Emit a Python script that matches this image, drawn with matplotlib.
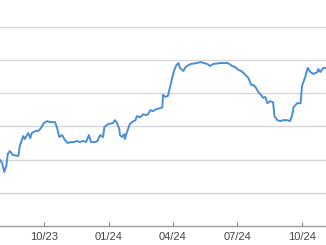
import pandas as pd
import matplotlib
matplotlib.use("Agg")
import matplotlib.pyplot as plt
import matplotlib.dates as mdates

# days since 2023-07-31 and the value
days = [0, 3, 6, 9, 11, 14, 18, 26, 28, 33, 35, 40, 43, 45, 50, 54, 58, 62, 67, 71,
        78, 81, 84, 88, 92, 96, 101, 105, 109, 113, 118, 122, 126, 129, 135, 138, 142, 146, 148, 153,
        160, 163, 166, 169, 170, 173, 176, 177, 180, 184, 187, 192, 194, 199, 203, 207, 210, 213, 217, 221,
        227, 230, 231, 234, 238, 241, 245, 247, 250, 253, 255, 260, 262, 265, 270, 279, 284, 294, 298, 302,
        312, 323, 329, 333, 338, 342, 348, 352, 356, 359, 362, 366, 370, 373, 376, 379, 383, 387, 389, 393,
        397, 401, 407, 411, 414, 416, 421, 426, 428, 433, 436, 440, 444, 450, 451, 454, 458, 462]
values = [19.9, 19.0, 16.3, 18.1, 21.7, 22.6, 21.4, 21.1, 24.1, 27.1, 26.2, 28.0, 26.5, 28.0, 28.6, 28.6, 29.5, 31.0, 31.6, 31.3,
          31.3, 29.5, 26.8, 27.4, 25.9, 25.0, 25.3, 25.3, 25.6, 25.3, 25.6, 25.3, 27.4, 25.3, 25.3, 25.6, 27.4, 26.8, 29.8, 30.7,
          31.0, 31.9, 31.0, 29.2, 27.4, 26.8, 27.7, 26.2, 28.3, 30.7, 31.3, 31.9, 33.1, 32.8, 33.7, 33.4, 33.7, 34.9, 34.6, 35.2,
          35.5, 35.8, 39.5, 38.9, 39.2, 41.9, 45.5, 47.0, 48.5, 49.1, 47.6, 46.7, 47.6, 48.2, 48.8, 49.1, 49.4, 48.8, 48.2, 48.8,
          49.1, 49.1, 48.2, 47.9, 47.0, 46.7, 45.5, 44.6, 42.5, 42.5, 41.9, 40.4, 39.5, 38.6, 38.9, 37.0, 37.6, 37.3, 33.1, 31.9,
          31.6, 31.9, 31.9, 31.6, 33.4, 35.8, 37.0, 37.0, 42.2, 45.2, 47.6, 46.4, 45.8, 46.4, 47.3, 46.4, 47.6, 47.6]

tick_dates = ["2023-10-01", "2024-01-01", "2024-04-01", "2024-07-01", "2024-10-01"]

dates = pd.Timestamp("2023-07-31") + pd.to_timedelta(days, unit="D")

plt.rcParams['font.family'] = ['Liberation Sans', 'DejaVu Sans']
fig = plt.figure(figsize=(3.26, 2.45), dpi=100)
ax = fig.add_axes([0, 19 / 245, 1, 226 / 245])

ax.plot(dates, values, color='#4a8fd6', linewidth=1.4, solid_joinstyle='round')

ax.set_xlim(pd.Timestamp("2023-07-31"), pd.Timestamp("2024-11-04"))
ax.set_ylim(0, 68.1)
ax.set_yticks([10, 20, 30, 40, 50, 60])
ax.yaxis.grid(True, color='#d6d6d6', linewidth=1)
ax.set_axisbelow(True)
ax.tick_params(axis='y', left=False, labelleft=False)

ax.set_xticks(pd.to_datetime(tick_dates))
ax.xaxis.set_major_formatter(mdates.DateFormatter('%m/%y'))
ax.tick_params(axis='x', direction='in', length=3, color='#888888', labelsize=8,
               labelcolor='#444444', pad=4)

for s in ['top', 'left', 'right']:
    ax.spines[s].set_visible(False)
ax.spines['bottom'].set_color('#999999')
ax.spines['bottom'].set_linewidth(1)

fig.savefig('out.png', dpi=100)
